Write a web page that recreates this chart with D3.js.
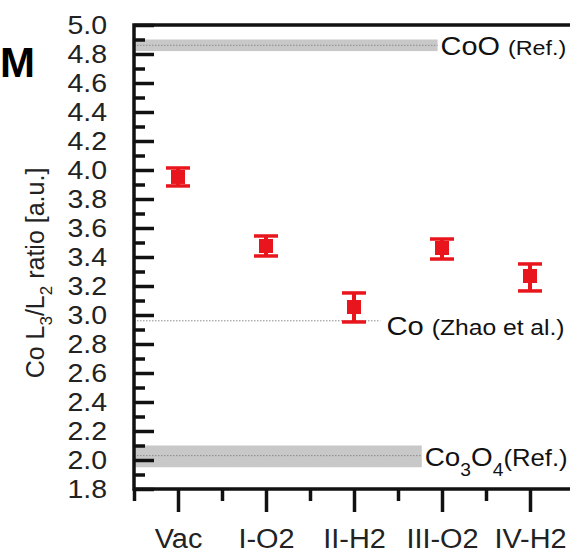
<!DOCTYPE html>
<html>
<head>
<meta charset="utf-8">
<script src="https://cdn.jsdelivr.net/npm/d3@7"></script>
<style>
  body { margin: 0; background: #fff; }
  svg { display: block; font-family: "Liberation Sans", Arial, sans-serif; }
</style>
</head>
<body>
<script>
// data
var categories = ["Vac", "I-O2", "II-H2", "III-O2", "IV-H2"];
var ratio = [3.952, 3.476, 3.055, 3.462, 3.269];
var errLow = [3.890, 3.407, 2.952, 3.386, 3.166];
var errHigh = [4.014, 3.545, 3.152, 3.524, 3.352];

// reference levels: centre value, band low/high, end of the line (x units)
var refNames = ["CoO", "Co", "Co3O4"];
var refValues = [4.86, 2.96, 2.03];
var refBandLow = [4.82, null, 1.95];
var refBandHigh = [4.90, null, 2.10];
var refEnd = [3.95, 3.30, 3.77];

var yMajor = d3.range(18, 51, 2).map(function(d) { return d / 10; });
var yMinor = d3.range(19, 50, 2).map(function(d) { return d / 10; });
var xMajor = [1, 2, 3, 4, 5];
var xMinor = [0.5, 1.5, 2.5, 3.5, 4.5, 5.5];

var w = 570, h = 554;
var padL = 134, padR = 574, padT = 25, padB = 489;
var red = "#e8161c";

// the original figure's lettering is a bit wider than plain Arial
function widen(sel, k) {
  sel.each(function() {
    var len = this.getComputedTextLength();
    d3.select(this)
      .attr("textLength", len * k)
      .attr("lengthAdjust", "spacingAndGlyphs");
  });
}

var svg = d3.select("body").append("svg")
  .attr("width", w)
  .attr("height", h);

var x = d3.scaleLinear().domain([0.5, 5.5]).range([padL, padR]);
var y = d3.scaleLinear().domain([1.8, 5.0]).range([padB, padT]);

// reference bands and lines
refNames.forEach(function(name, i) {
  if (refBandLow[i] != null) {
    svg.append("rect")
      .attr("x", x(0.5))
      .attr("y", y(refBandHigh[i]))
      .attr("width", x(refEnd[i]) - x(0.5))
      .attr("height", y(refBandLow[i]) - y(refBandHigh[i]))
      .attr("fill", "#c8c8c8");
  }
  svg.append("line")
    .attr("x1", x(0.5))
    .attr("x2", x(refEnd[i]))
    .attr("y1", y(refValues[i]))
    .attr("y2", y(refValues[i]))
    .attr("stroke", "#8a8a8a")
    .attr("stroke-width", 1)
    .attr("stroke-dasharray", "1.5,1.5");
});

// reference labels
var t = svg.append("text")
  .attr("x", x(refEnd[0]) + 3)
  .attr("y", y(refValues[0]) + 10)
  .attr("font-size", 26)
  .attr("fill", "#111");
t.append("tspan").text("CoO ");
t.append("tspan").attr("font-size", 21).text("(Ref.)");
widen(t, 1.11);

t = svg.append("text")
  .attr("x", x(refEnd[1]) + 6)
  .attr("y", y(refValues[1]) + 14)
  .attr("font-size", 26)
  .attr("fill", "#111");
t.append("tspan").text("Co ");
t.append("tspan").attr("font-size", 22).text("(Zhao et al.)");
widen(t, 1.12);

t = svg.append("text")
  .attr("x", x(refEnd[2]) + 3)
  .attr("y", y(refValues[2]) + 10)
  .attr("font-size", 26)
  .attr("fill", "#111");
t.append("tspan").text("Co");
t.append("tspan").attr("font-size", 18).attr("dy", 10).text("3");
t.append("tspan").attr("dy", -10).text("O");
t.append("tspan").attr("font-size", 18).attr("dy", 10).text("4");
t.append("tspan").attr("font-size", 24).attr("dy", -10).text("(Ref.)");
widen(t, 1.07);

// y axis ticks (inside)
svg.append("g")
  .attr("transform", "translate(" + padL + ",0)")
  .call(d3.axisLeft(y).tickValues(yMajor).tickSize(-20).tickPadding(27)
    .tickFormat(d3.format(".1f")))
  .call(function(g) { g.select(".domain").remove(); })
  .attr("class", "yax");
svg.append("g")
  .attr("transform", "translate(" + padL + ",0)")
  .call(d3.axisLeft(y).tickValues(yMinor).tickSize(-11).tickFormat(""))
  .call(function(g) { g.select(".domain").remove(); });

// x axis ticks (outside)
svg.append("g")
  .attr("transform", "translate(0," + padB + ")")
  .call(d3.axisBottom(x).tickValues(xMajor).tickSize(23).tickPadding(17)
    .tickFormat(function(d) { return categories[d - 1]; }))
  .call(function(g) { g.select(".domain").remove(); })
  .attr("class", "xax");
svg.append("g")
  .attr("transform", "translate(0," + padB + ")")
  .call(d3.axisBottom(x).tickValues(xMinor).tickSize(12).tickFormat(""))
  .call(function(g) { g.select(".domain").remove(); });

svg.selectAll(".tick line")
  .attr("stroke", "#111")
  .attr("stroke-width", 3.5);
svg.selectAll(".tick text")
  .attr("fill", "#222")
  .attr("font-family", "Liberation Sans, Arial, sans-serif");
svg.selectAll(".yax text").attr("font-size", 25);
svg.selectAll(".xax text").attr("font-size", 27);
widen(svg.selectAll(".yax text"), 1.14);
widen(svg.selectAll(".xax text"), 1.07);

// frame (left, top, bottom)
svg.append("path")
  .attr("d", "M" + padR + "," + y(5) + "H" + x(0.5) + "V" + y(1.8) + "H" + padR)
  .attr("fill", "none")
  .attr("stroke", "#111")
  .attr("stroke-width", 3.5);

// y axis title
t = svg.append("text")
  .attr("transform", "translate(44," + ((padT + padB) / 2 + 16) + ") rotate(-90)")
  .attr("text-anchor", "middle")
  .attr("font-size", 25)
  .attr("fill", "#222");
t.append("tspan").text("Co L");
t.append("tspan").attr("font-size", 17).attr("dy", 8).text("3");
t.append("tspan").attr("dy", -8).text("/L");
t.append("tspan").attr("font-size", 17).attr("dy", 8).text("2");
t.append("tspan").attr("dy", -8).text(" ratio [a.u.]");

// panel letter
svg.append("text")
  .attr("x", 0)
  .attr("y", 77)
  .attr("font-size", 42)
  .attr("font-weight", "bold")
  .attr("fill", "#000")
  .text("M");

// error bars
var pts = svg.append("g");
pts.selectAll(".stem")
  .data(categories)
  .enter()
  .append("line")
  .attr("x1", function(d, i) { return x(i + 1); })
  .attr("x2", function(d, i) { return x(i + 1); })
  .attr("y1", function(d, i) { return y(errLow[i]); })
  .attr("y2", function(d, i) { return y(errHigh[i]); })
  .attr("stroke", red)
  .attr("stroke-width", 4);

[errLow, errHigh].forEach(function(arr) {
  pts.selectAll(null)
    .data(categories)
    .enter()
    .append("line")
    .attr("x1", function(d, i) { return x(i + 1) - 12; })
    .attr("x2", function(d, i) { return x(i + 1) + 12; })
    .attr("y1", function(d, i) { return y(arr[i]); })
    .attr("y2", function(d, i) { return y(arr[i]); })
    .attr("stroke", red)
    .attr("stroke-width", 3.5);
});

pts.selectAll("rect")
  .data(categories)
  .enter()
  .append("rect")
  .attr("x", function(d, i) { return x(i + 1) - 7; })
  .attr("y", function(d, i) { return y(ratio[i]) - 7; })
  .attr("width", 14)
  .attr("height", 14)
  .attr("fill", red);
</script>
</body>
</html>
